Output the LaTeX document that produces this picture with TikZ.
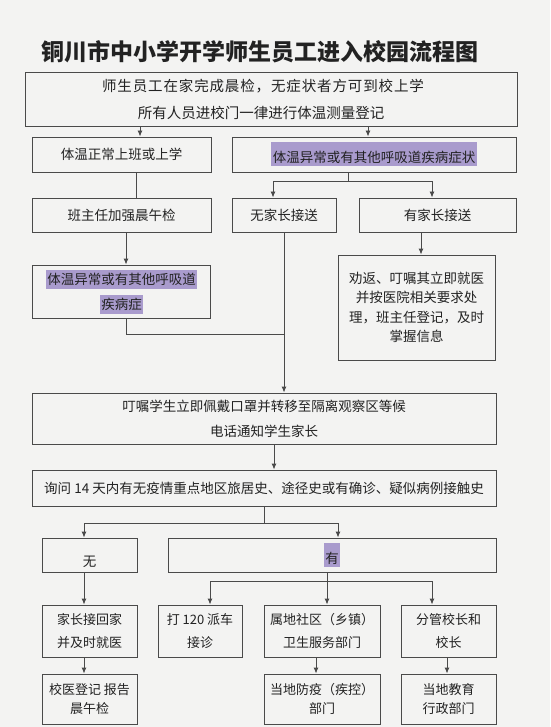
\documentclass[tikz,border=0pt]{standalone}
\usepackage{fontspec}
\setmainfont{Noto Sans CJK SC}
\usetikzlibrary{arrows.meta}

\definecolor{paper}{HTML}{F3F3F2}
\definecolor{frame}{HTML}{4A4A4A}
\definecolor{ink}{HTML}{222222}
\definecolor{hlpurple}{HTML}{A99BCD}

% 紫色底纹
\newcommand{\hl}[2][19pt]{{\setlength{\fboxsep}{0pt}\colorbox{hlpurple}{\rule[-4pt]{0pt}{#1}\kern1.5pt#2\kern1.5pt}}}

\tikzset{
  box/.style={draw=frame, line width=0.9pt, inner sep=0pt, align=center, text=ink,
    font=\fontsize{13.5}{25}\selectfont},
  flow/.style={draw=frame, line width=0.9pt, -{Latex[length=6pt,width=5pt]}},
  link/.style={draw=frame, line width=0.9pt},
}

\begin{document}
\begin{tikzpicture}[x=1pt,y=-1pt]
	% 背景
	\fill[paper] (0,0) rectangle (550,727);

	% 标题
	\node[font=\fontsize{23}{23}\selectfont\bfseries, text=ink] (title) at (260,52)
		{铜川市中小学开学师生员工进入校园流程图};

	% 上部
	\node[box, font=\fontsize{14.5}{27}\selectfont, minimum width=492, minimum height=54] (home) at (271,99)
		{{\addfontfeatures{LetterSpace=6}师生员工在家完成晨检，无症状者方可到校上学}\kern16pt\\所有人员进校门一律进行体温测量登记\kern20pt};
	\node[box, minimum width=179, minimum height=35] (normal) at (121.5,154.5) {体温正常上班或上学};
	\node[box, minimum width=284, minimum height=35] (abnormal) at (374,154.5)
		{\hl[24pt]{体温异常或有其他呼吸道疾病症状}};
	\node[box, minimum width=179, minimum height=34] (check) at (121.5,215) {班主任加强晨午检};
	\node[box, minimum width=104, minimum height=34] (nopar) at (284,215) {无家长接送};
	\node[box, minimum width=157, minimum height=34] (withpar) at (437.5,215) {有家长接送};
	\node[box, font=\fontsize{13.5}{19.5}\selectfont, minimum width=157, minimum height=105] (persuade) at (416.5,307.5)
		{劝返、叮嘱其立即就医\\并按医院相关要求处\\理，班主任登记，及时\\掌握信息};
	\node[box, minimum width=178, minimum height=53] (sympt) at (121.5,291.5)
		{\hl{体温异常或有其他呼吸道}\\\hl{疾病症}};

	% 中部
	\node[box, minimum width=464, minimum height=51] (isolate) at (264,418.5)
		{叮嘱学生立即佩戴口罩并转移至隔离观察区等候\\电话通知学生家长};
	\node[box, minimum width=464, minimum height=36] (ask) at (264,488)
		{询问 14 天内有无疫情重点地区旅居史、途径史或有确诊、疑似病例接触史};
	\node[box, minimum width=95, minimum height=34] (nohist) at (89.5,555)
		{\raisebox{-7pt}[\height][\depth]{无}};
	\node[box, minimum width=328, minimum height=34] (hashist) at (332,555) {\hl[24pt]{有}};

	% 下部
	\node[box, font=\fontsize{13}{23}\selectfont, minimum width=95, minimum height=52] (pickup) at (89.5,631)
		{家长接回家\\并及时就医};
	\node[box, font=\fontsize{13}{23}\selectfont, minimum width=84, minimum height=52] (call) at (200,631)
		{打 120 派车\\接诊};
	\node[box, font=\fontsize{13}{23}\selectfont, minimum width=116, minimum height=52] (community) at (322,631)
		{属地社区（乡镇）\\卫生服务部门};
	\node[box, font=\fontsize{13}{23}\selectfont, minimum width=95, minimum height=52] (principal) at (448.5,631)
		{分管校长和\\校长};
	\node[box, font=\fontsize{13}{18.5}\selectfont, minimum width=95, minimum height=50] (report) at (89.5,699)
		{校医登记 报告\\晨午检};
	\node[box, font=\fontsize{13}{18.5}\selectfont, minimum width=116, minimum height=50] (cdc) at (322,699)
		{当地防疫（疾控）\\部门};
	\node[box, font=\fontsize{13}{18.5}\selectfont, minimum width=95, minimum height=50] (edu) at (448.5,699)
		{当地教育\\行政部门};

	% 连线
	\coordinate (splitA) at (348,181);
	\coordinate (join) at (284,334);
	\coordinate (splitB) at (264,523);
	\coordinate (splitC) at (327,581);

	\draw[flow] ([xshift=18.5]normal.north |- home.south) -- ([xshift=18.5]normal.north);
	\draw[flow] ([xshift=-6]abnormal.north |- home.south) -- ([xshift=-6]abnormal.north);
	\draw[link] ([xshift=14.5]normal.south) -- ([xshift=14.5]check.north);
	\draw[link] (abnormal.south -| splitA) -- (splitA);
	\draw[flow] (splitA) -| ([xshift=-11]nopar.north);
	\draw[flow] (splitA) -| ([xshift=-5.5]withpar.north);
	\draw[flow] ([xshift=4.5]persuade.north |- withpar.south) -- ([xshift=4.5]persuade.north);
	\draw[flow] ([xshift=4.5]check.south) -- ([xshift=4.5]sympt.north);
	\draw[link] ([xshift=4.5]sympt.south) |- (join);
	\draw[flow] (nopar.south) -- (nopar.south |- isolate.north);
	\draw[flow] ([xshift=10]isolate.south) -- ([xshift=10]ask.north);
	\draw[link] (ask.south) -- (splitB);
	\draw[flow] (splitB) -| ([xshift=-5.5]nohist.north);
	\draw[flow] (splitB) -| ([xshift=6]hashist.north);
	\draw[flow] ([xshift=-5.5]nohist.south) -- ([xshift=-5.5]pickup.north);
	\draw[link] ([xshift=-5]hashist.south) -- (splitC);
	\draw[flow] (splitC) -| ([xshift=10]call.north);
	\draw[flow] (splitC) -| ([xshift=5]community.north);
	\draw[flow] (splitC) -| ([xshift=-16.5]principal.north);
	\draw[flow] ([xshift=-5.5]pickup.south) -- ([xshift=-5.5]report.north);
	\draw[flow] ([xshift=-6]community.south) -- ([xshift=-6]cdc.north);
	\draw[flow] ([xshift=-1.5]principal.south) -- ([xshift=-1.5]edu.north);
\end{tikzpicture}
\end{document}
